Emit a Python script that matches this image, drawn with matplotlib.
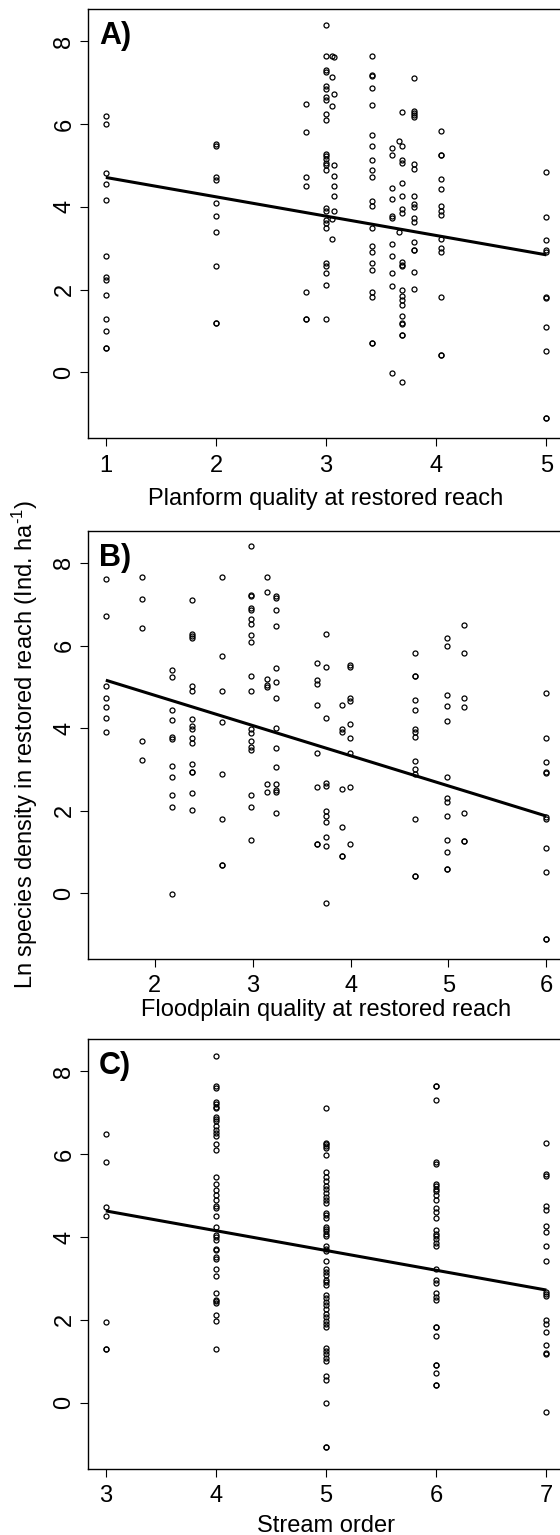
import matplotlib
matplotlib.use('Agg')
import matplotlib.pyplot as plt

plt.rcParams['font.family'] = ['Liberation Sans', 'DejaVu Sans']
plt.rcParams['mathtext.fontset'] = 'custom'
plt.rcParams['mathtext.rm'] = 'Liberation Sans'
plt.rcParams['mathtext.it'] = 'Liberation Sans:italic'
plt.rcParams['mathtext.bf'] = 'Liberation Sans:bold'

# ---------------- data ----------------
# Panel A: planform quality
planform_x = [1, 2, 2.82, 3.0, 3.05, 3.07, 3.42, 3.6, 3.66, 3.69, 3.8, 4.04, 5]
planform_y = [
    [6.19, 5.99, 4.81, 4.55, 4.17, 2.81, 2.31, 2.23, 1.87, 1.29, 1.01, 0.60, 0.60],
    [5.52, 5.48, 4.73, 4.65, 4.09, 3.77, 3.40, 2.58, 1.19, 1.19],
    [6.49, 5.81, 4.73, 4.51, 1.95, 1.28, 1.28],
    [8.40, 7.65, 7.31, 7.25, 6.91, 6.85, 6.65, 6.59, 6.25, 6.10, 5.28, 5.22, 5.15,
     5.07, 5.01, 4.90, 3.97, 3.91, 3.69, 3.60, 3.49, 2.64, 2.56, 2.40, 2.10, 1.29],
    [7.65, 7.13, 6.43, 3.70, 3.23],
    [7.61, 6.72, 5.02, 4.75, 4.51, 4.25, 3.90],
    [7.65, 7.19, 7.15, 6.86, 6.47, 5.74, 5.46, 5.12, 4.90, 4.73, 4.15, 4.01, 3.50,
     3.06, 2.90, 2.64, 2.48, 1.95, 1.81, 0.70, 0.70],
    [5.42, 5.25, 4.45, 4.19, 3.78, 3.73, 3.10, 2.82, 2.40, 2.09, -0.01],
    [5.59, 3.40],
    [6.28, 5.48, 5.14, 5.07, 4.57, 4.25, 3.94, 3.86, 2.67, 2.60, 2.56, 1.99, 1.85,
     1.75, 1.63, 1.37, 1.20, 1.17, 0.90, 0.90, -0.23],
    [7.11, 6.31, 6.27, 6.23, 6.17, 5.03, 4.92, 4.25, 4.07, 3.99, 3.74, 3.63, 3.14,
     2.96, 2.96, 2.43, 2.02],
    [5.83, 5.26, 5.26, 4.68, 4.44, 4.01, 3.91, 3.81, 3.22, 3.00, 2.90, 1.81, 0.42, 0.42],
    [4.83, 3.75, 3.20, 2.96, 2.92, 1.83, 1.79, 1.09, 0.52, -1.10, -1.10],
]
planform_fit_x = [1, 5]
planform_fit_y = [4.71, 2.84]

# Panel B: floodplain quality
floodplain_x = [1.5, 1.87, 2.18, 2.38, 2.69, 2.98, 3.15, 3.24, 3.66, 3.75, 3.91,
                3.99, 4.66, 4.99, 5.16, 6.0]
floodplain_y = [
    [7.60, 6.72, 5.02, 4.74, 4.50, 4.25, 3.90],
    [7.65, 7.13, 6.43, 3.69, 3.22],
    [5.41, 5.24, 4.44, 4.19, 3.79, 3.74, 3.09, 2.82, 2.39, 2.08, -0.02],
    [7.10, 6.29, 6.23, 6.19, 5.02, 4.90, 4.23, 4.06, 3.99, 3.75, 3.63, 3.13, 2.94,
     2.94, 2.43, 2.02],
    [7.65, 5.74, 4.90, 4.15, 2.89, 1.79, 0.69, 0.69],
    [8.40, 7.22, 7.19, 6.92, 6.85, 6.65, 6.53, 6.25, 6.09, 5.27, 4.90, 3.97, 3.89,
     3.69, 3.55, 3.48, 2.39, 2.10, 1.29],
    [7.65, 7.30, 5.19, 5.04, 5.00, 2.65, 2.46],
    [7.20, 7.15, 6.86, 6.47, 5.45, 5.12, 4.73, 4.01, 3.51, 3.06, 2.65, 2.50, 2.46, 1.95],
    [5.58, 5.16, 5.08, 4.56, 3.40, 2.58, 1.19, 1.19],
    [6.28, 5.48, 4.25, 2.68, 2.60, 2.00, 1.88, 1.72, 1.37, 1.15, -0.24],
    [4.56, 3.97, 3.90, 2.52, 1.60, 0.90, 0.90],
    [5.52, 5.48, 4.74, 4.66, 4.09, 3.77, 3.40, 2.58, 1.19],
    [5.83, 5.26, 5.26, 4.69, 4.44, 3.99, 3.90, 3.79, 3.20, 3.00, 2.90, 1.81, 0.43, 0.43],
    [6.19, 5.98, 4.81, 4.54, 4.18, 2.81, 2.32, 2.22, 1.87, 1.29, 1.01, 0.60, 0.60],
    [6.49, 5.81, 4.73, 4.50, 1.95, 1.27, 1.27],
    [4.84, 3.76, 3.19, 2.94, 2.92, 1.85, 1.79, 1.09, 0.51, -1.10, -1.10],
]
floodplain_fit_x = [1.5, 6]
floodplain_fit_y = [5.16, 1.87]

# Panel C: stream order
stream_x = [3, 4, 5, 6, 7]
stream_y = [
    [6.48, 5.80, 4.73, 4.50, 1.96, 1.29, 1.29],
    [8.38, 7.64, 7.60, 7.26, 7.20, 7.15, 7.11, 6.90, 6.85, 6.80, 6.67, 6.58, 6.50,
     6.43, 6.24, 6.09, 5.45, 5.27, 5.14, 5.02, 4.89, 4.74, 4.71, 4.50, 4.24, 4.04,
     3.99, 3.92, 3.72, 3.68, 3.52, 3.47, 3.23, 3.06, 2.65, 2.49, 2.45, 2.40, 2.12,
     1.97, 1.30],
    [7.11, 6.28, 6.24, 6.19, 6.14, 5.99, 5.57, 5.45, 5.35, 5.24, 5.15, 5.06, 4.97,
     4.89, 4.81, 4.58, 4.53, 4.45, 4.24, 4.20, 4.15, 4.08, 4.02, 3.78, 3.72, 3.67,
     3.42, 3.22, 3.16, 3.08, 2.97, 2.92, 2.84, 2.60, 2.52, 2.44, 2.36, 2.27, 2.14,
     2.06, 1.98, 1.90, 1.82, 1.33, 1.25, 1.17, 1.09, 1.00, 0.64, 0.55, 0.00,
     -1.06, -1.06],
    [7.64, 7.64, 7.30, 5.81, 5.76, 5.29, 5.23, 5.17, 5.11, 5.02, 4.90, 4.69, 4.61,
     4.45, 4.16, 4.08, 4.02, 3.95, 3.86, 3.79, 3.22, 2.97, 2.89, 2.65, 2.56, 2.48,
     1.82, 1.82, 1.61, 0.92, 0.92, 0.71, 0.44, 0.44],
    [6.28, 5.51, 5.47, 4.74, 4.66, 4.26, 4.11, 3.78, 3.42, 2.68, 2.62, 2.57, 1.99,
     1.89, 1.71, 1.39, 1.21, 1.17, -0.23],
]
stream_fit_x = [3, 7]
stream_fit_y = [4.63, 2.72]

panel_letters = ['A)', 'B)', 'C)']
x_labels = ['Planform quality at restored reach',
            'Floodplain quality at restored reach',
            'Stream order']
y_label = 'Ln species density in restored reach (Ind. ha$^{\\text{-1}}$)'
xticks_a = [1, 2, 3, 4, 5]
xticks_b = [2, 3, 4, 5, 6]
xticks_c = [3, 4, 5, 6, 7]
yticks = [0, 2, 4, 6, 8]

# ---------------- layout ----------------
W, H = 560, 1535
fig = plt.figure(figsize=(W / 100, H / 100), dpi=100)
FS = 17

panels = [
    dict(top=9.0, bottom=438.2, xlim=(0.84, 5.16), xticks=xticks_a,
         gx=planform_x, gy=planform_y, fx=planform_fit_x, fy=planform_fit_y,
         letter=panel_letters[0], xlabel=x_labels[0], xl_base=505),
    dict(top=530.7, bottom=959.0, xlim=(1.32, 6.18), xticks=xticks_b,
         gx=floodplain_x, gy=floodplain_y, fx=floodplain_fit_x, fy=floodplain_fit_y,
         letter=panel_letters[1], xlabel=x_labels[1], xl_base=1016),
    dict(top=1039.0, bottom=1468.6, xlim=(2.84, 7.16), xticks=xticks_c,
         gx=stream_x, gy=stream_y, fx=stream_fit_x, fy=stream_fit_y,
         letter=panel_letters[2], xlabel=x_labels[2], xl_base=1532),
]

left_px, right_px = 88.2, 564.0
for p in panels:
    ax = fig.add_axes([left_px / W, 1 - p['bottom'] / H,
                       (right_px - left_px) / W, (p['bottom'] - p['top']) / H])
    for xv, ys in zip(p['gx'], p['gy']):
        ax.plot([xv] * len(ys), ys, linestyle='none', marker='o', ms=3.6,
                mfc='none', mec='black', mew=0.9)
    ax.plot(p['fx'], p['fy'], color='black', lw=2.2, solid_capstyle='butt')
    ax.set_xlim(*p['xlim'])
    ax.set_ylim(-1.59, 8.78)
    ax.set_xticks(p['xticks'])
    ax.set_yticks(yticks)
    ax.set_xticklabels([str(t) for t in p['xticks']])
    ax.set_yticklabels([str(t) for t in yticks])
    ax.tick_params(axis='both', direction='out', length=5.8, width=0.8,
                   labelsize=FS, colors='black')
    ax.tick_params(axis='x', pad=6.0)
    ax.tick_params(axis='y', pad=3.4)
    for lab in ax.get_yticklabels():
        lab.set_rotation(90)
        lab.set_va('center')
        lab.set_ha('right')
    for s in ax.spines.values():
        s.set_linewidth(1.0)
        s.set_color('black')
    ax.text(11 / (right_px - left_px), 1 - 35 / (p['bottom'] - p['top']),
            p['letter'], transform=ax.transAxes, fontsize=22, fontweight='bold',
            ha='left', va='baseline')
    fig.text(326 / W, 1 - p['xl_base'] / H, p['xlabel'], fontsize=FS,
             ha='center', va='baseline')

fig.text(25 / W, 1 - 745 / H, y_label, fontsize=FS, rotation=90,
         ha='center', va='center')

fig.savefig('out.png', dpi=100)
